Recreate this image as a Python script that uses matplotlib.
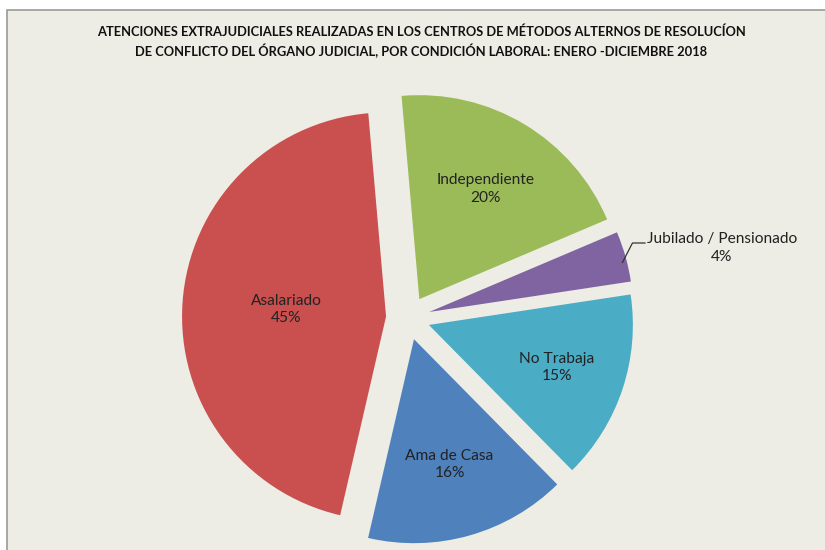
import numpy as np
import matplotlib
matplotlib.use("Agg")
import matplotlib.pyplot as plt
from matplotlib.patches import Rectangle

categorias = ["Independiente", "Jubilado / Pensionado", "No Trabaja", "Ama de Casa", "Asalariado"]
porcentajes = [20, 4, 15, 16, 45]
colores = ["#9bbb59", "#8064a2", "#4bacc6", "#4f81bd", "#c9504f"]

titulo = ("ATENCIONES EXTRAJUDICIALES REALIZADAS EN LOS CENTROS DE MÉTODOS ALTERNOS DE RESOLUCÍON\n"
          "DE CONFLICTO DEL ÓRGANO JUDICIAL, POR CONDICIÓN LABORAL: ENERO -DICIEMBRE 2018")

W, H = 825, 550
fig = plt.figure(figsize=(W / 100, H / 100), dpi=100, facecolor="white")
ax = fig.add_axes([0, 0, 1, 1])

# chart area (beige, slightly cut off at right/bottom)
ax.add_patch(Rectangle((7, -5), W + 10, H - 10 + 5, facecolor="#eeede5",
                       edgecolor="#9a9a96", linewidth=1.2, zorder=0))

cx, cy, r = 408, H - 318, 204
expl = [22] * len(porcentajes)
wedges, _ = ax.pie(porcentajes, colors=colores, startangle=95, counterclock=False,
                   center=(cx, cy), radius=r, explode=expl, frame=True,
                   wedgeprops=dict(linewidth=0))
ax.set_xlim(0, W)
ax.set_ylim(0, H)
ax.axis("off")
ax.set_aspect("equal")

lbl_font = dict(family=["Lato", "DejaVu Sans"], fontsize=11.2, color="#222222")
dist = [0.63, None, 0.66, 0.64, 0.49]
for w, cat, p, d in zip(wedges, categorias, porcentajes, dist):
    ang = np.deg2rad((w.theta1 + w.theta2) / 2)
    wx, wy = w.center
    if d is None:
        # outside label with leader line
        ex, ey = wx + r * np.cos(ang), wy + r * np.sin(ang)
        tx, ty = 648, H - 248
        ax.plot([ex - 3, ex + 7, tx - 3], [ey - 6, ty + 5, ty + 5], color="#333333", lw=0.9)
        ax.text(tx + 74, ty, f"{cat}\n{p}%", ha="center", va="center",
                linespacing=1.3, **lbl_font)
        continue
    ax.text(wx + d * r * np.cos(ang), wy + d * r * np.sin(ang), f"{cat}\n{p}%",
            ha="center", va="center", linespacing=1.3, **lbl_font)

t = ax.text(421, H - 42, titulo, ha="center", va="center", fontsize=10, fontweight="bold",
            family=["Lato", "DejaVu Sans"], color="#111111", linespacing=1.5)
# shrink title so the first line spans about 650 px, like the original
fig.canvas.draw()
wdt = t.get_window_extent().width
t.set_fontsize(10 * 650 / wdt)

fig.savefig("out.png", dpi=100, facecolor="white")
